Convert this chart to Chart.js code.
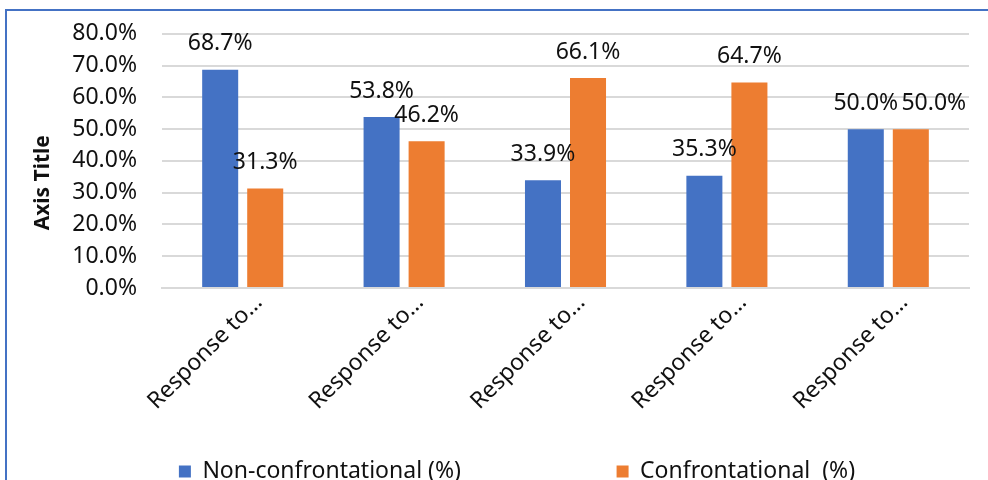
<!DOCTYPE html>
<html>
<head>
<meta charset="utf-8">
<script src="https://cdn.jsdelivr.net/npm/chart.js@4"></script>
<style>
  html, body { margin: 0; padding: 0; background: #fff; overflow: hidden; width: 988px; height: 480px; }
  .frame { position: absolute; left: 5px; top: 9px; width: 1040px; height: 520px; border-left: 2px solid #4472c4; border-top: 2px solid #4472c4; }
  .box { position: absolute; left: 0; top: 0; width: 1020px; height: 490px; }
</style>
</head>
<body>
<div class="frame"><div class="box"><canvas id="responseChart"></canvas></div></div>
<script>
/* Response types bar chart */

const categories = ['Response to…', 'Response to…', 'Response to…', 'Response to…', 'Response to…'];
const nonConfrontational = [68.7, 53.8, 33.9, 35.3, 50.0];
const confrontational    = [31.3, 46.2, 66.1, 64.7, 50.0];
const seriesNames = ['Non-confrontational (%)', 'Confrontational  (%)'];
const yTicks = [0, 10, 20, 30, 40, 50, 60, 70, 80];
// the last orange value label was nudged right in the original so the two 50.0% don't collide
const labelNudge = [[0, 0, 0, 0, 0], [0, 0, 0, 0, 23]];

const FONT = "'Noto Sans', 'Open Sans', sans-serif";
const blue   = '#4472c4';
const orange = '#ed7d31';
const gridColor = '#d9d9d9';
const NBSP = '\u00a0';

function pct(v) { return parseFloat(v).toFixed(1) + '%'; }

// Value labels above each bar
const barLabels = {
    id: 'barLabels',
    afterDatasetsDraw(chart) {
        const ctx = chart.ctx;
        ctx.save();
        ctx.font = `23px ${FONT}`;
        ctx.fillStyle = '#111';
        ctx.textAlign = 'center';
        ctx.textBaseline = 'middle';
        chart.data.datasets.forEach((ds, i) => {
            chart.getDatasetMeta(i).data.forEach((bar, j) => {
                ctx.fillText(pct(ds.data[j]), bar.x + labelNudge[i][j], bar.y - 26);
            });
        });
        ctx.restore();
    }
};

const ctx = document.getElementById('responseChart').getContext('2d');
new Chart(ctx, {
    type: 'bar',
    data: {
        labels: categories,
        datasets: [
            { label: seriesNames[0], data: nonConfrontational, backgroundColor: blue },
            { label: seriesNames[1], data: confrontational, backgroundColor: orange }
        ]
    },
    options: {
        responsive: true,
        maintainAspectRatio: false,
        animation: false,
        datasets: { bar: { categoryPercentage: 0.558, barPercentage: 0.8 } },
        layout: { padding: { top: 21, right: 0, bottom: 8, left: 0 } },
        plugins: {
            legend: {
                position: 'bottom',
                labels: {
                    color: '#111',
                    font: { family: FONT, size: 23 },
                    boxWidth: 12,
                    boxHeight: 12,
                    padding: 42,
                    // widen the gap between the two entries like the original
                    generateLabels: chart => Chart.defaults.plugins.legend.labels.generateLabels(chart)
                        .map((item, i) => Object.assign(item, { text: i === 0 ? item.text + NBSP.repeat(19) : item.text }))
                }
            },
            tooltip: { enabled: false }
        },
        scales: {
            x: {
                grid: { display: false, drawTicks: false },
                border: { display: true, color: gridColor, width: 2 },
                ticks: { color: '#111', font: { family: FONT, size: 23 }, minRotation: 45, maxRotation: 45, padding: 1, labelOffset: 16 },
                afterFit: s => { s.height = 130; }
            },
            y: {
                min: 0,
                max: 80,
                afterBuildTicks: s => { s.ticks = yTicks.map(v => ({ value: v })); },
                grid: { color: gridColor, lineWidth: 2, drawTicks: true, tickLength: 16, tickColor: 'rgba(0,0,0,0)' },
                border: { display: false },
                ticks: { color: '#111', font: { family: FONT, size: 23 }, padding: 9, callback: v => pct(v) },
                title: {
                    display: true,
                    text: 'Axis Title' + NBSP.repeat(8),
                    color: '#111',
                    font: { family: FONT, size: 21, weight: 'bold' },
                    padding: { top: 23, bottom: 0 }
                },
                afterFit: s => { s.width = 155; }
            },
            // empty spacer on the right, keeps the legend centred where the original has it
            spacer: {
                type: 'linear',
                position: 'right',
                grid: { display: false },
                border: { display: false },
                ticks: { display: false },
                afterFit: s => { s.width = 58; }
            }
        }
    },
    plugins: [barLabels]
});
</script>
</body>
</html>
